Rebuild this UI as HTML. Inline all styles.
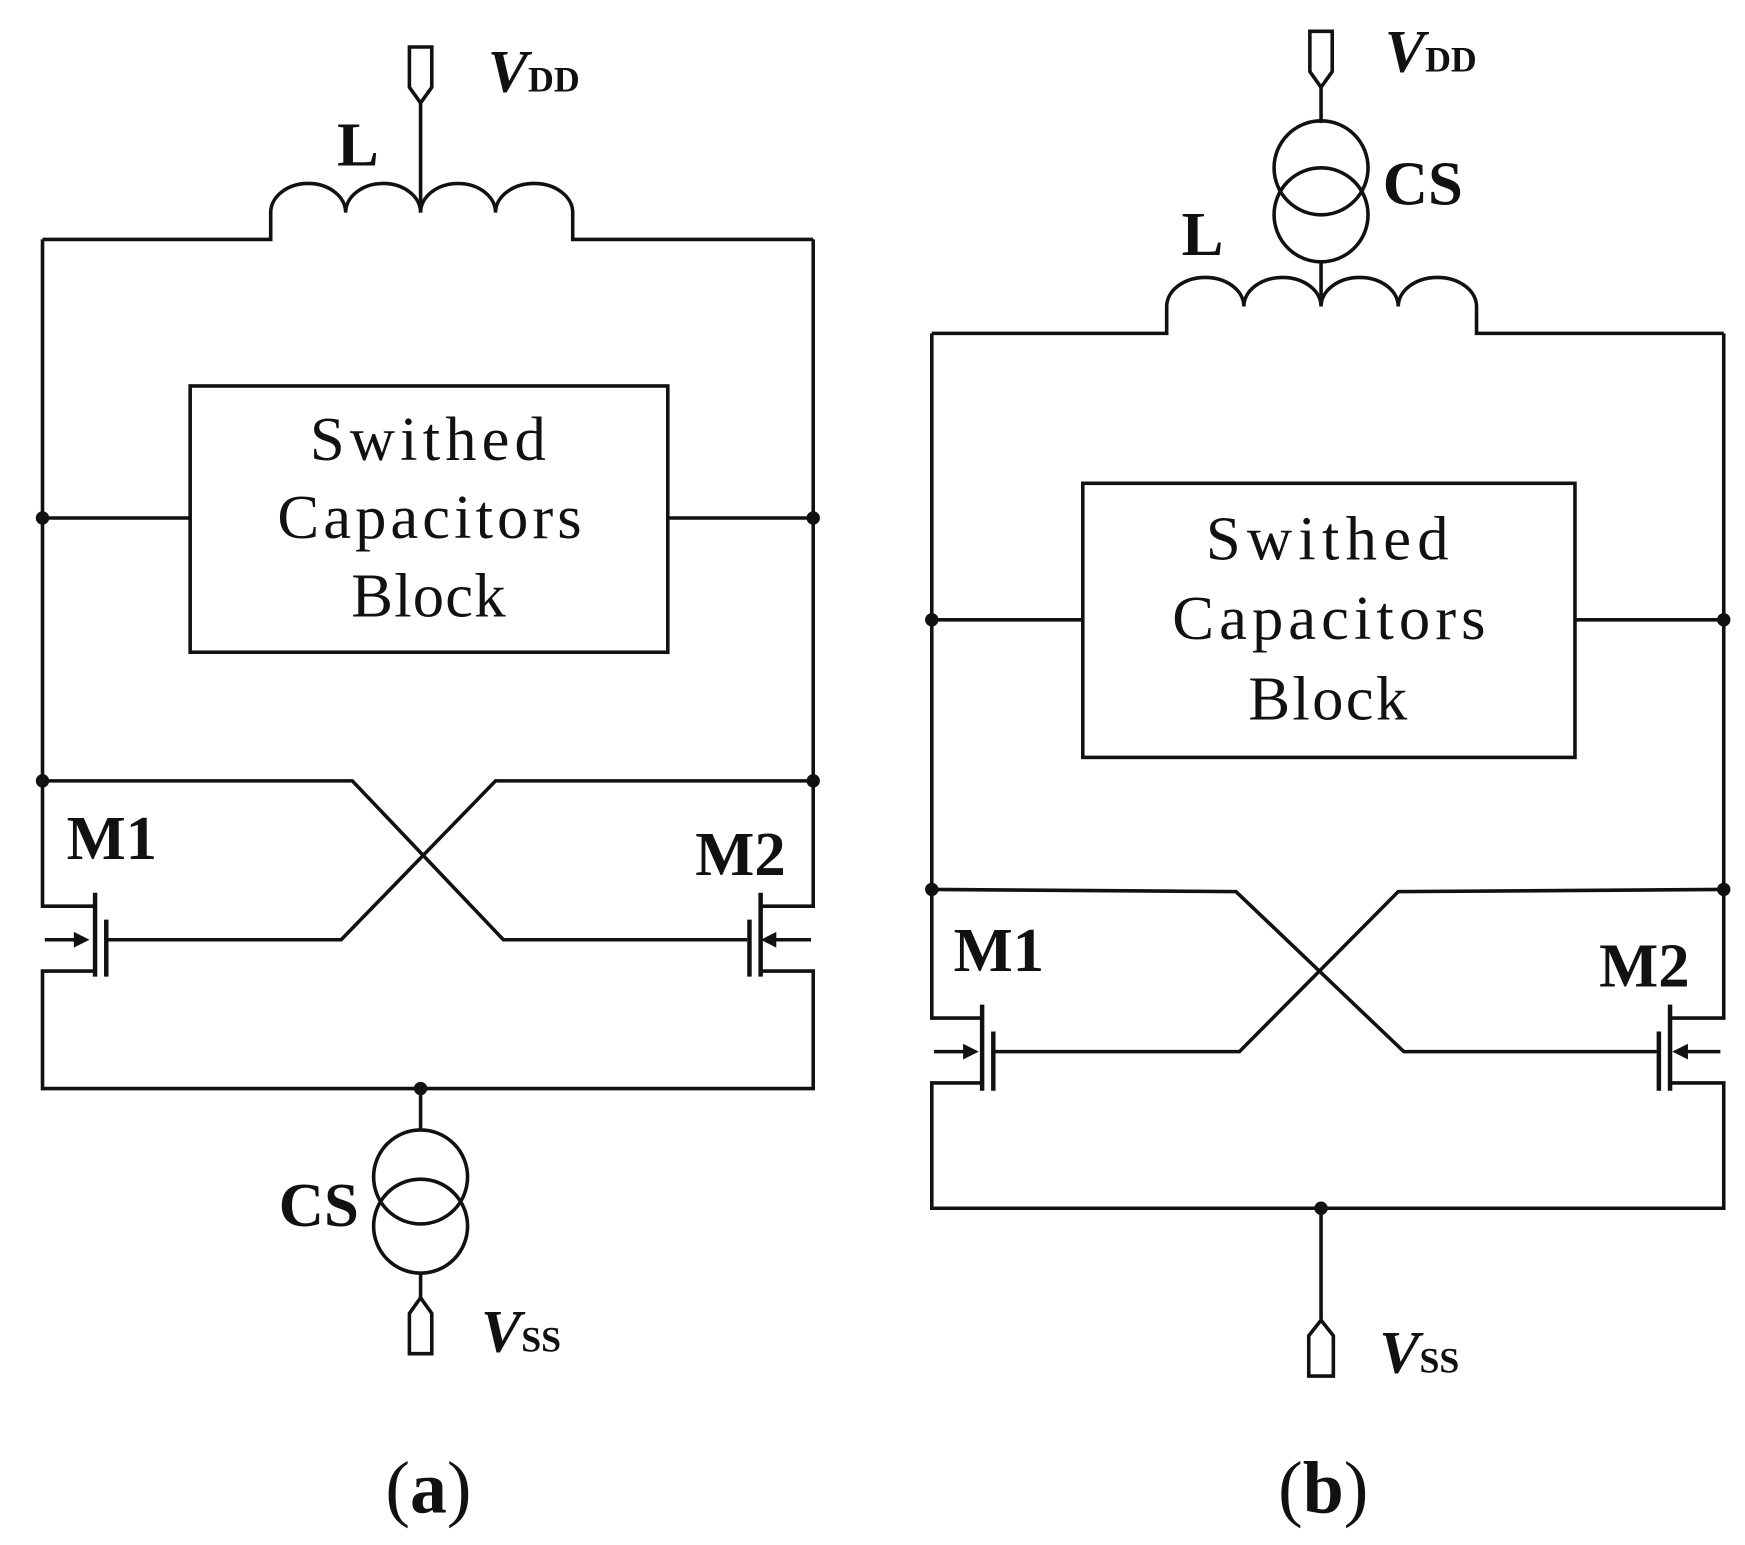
<!DOCTYPE html>
<html><head><style>html,body{margin:0;padding:0;background:#fff}svg{display:block}</style></head>
<body>
<svg width="1745" height="1545" viewBox="0 0 1560 1381" preserveAspectRatio="none" xmlns="http://www.w3.org/2000/svg">
<g fill="none" stroke="#111" stroke-width="3.2">
<!-- (a) -->
<path d="M366,42 h20 v36 l-10,14 l-10,-14 z"/>
<path d="M376,92 V190"/>
<path d="M38,214 H242 V190 a33.5,26 0 0 1 67,0 a33.5,26 0 0 1 67,0 a33.5,26 0 0 1 67,0 a34.5,26 0 0 1 69,0 V214 H727"/>
<path d="M38,214 V810 H85 M727,214 V810 H680"/>
<rect x="170" y="345" width="427" height="238"/>
<path d="M38,463 H170 M597,463 H727"/>
<path d="M38,698 H315 L450,840 H668"/>
<path d="M727,698 H443 L305,840 H97"/>
<path d="M85,868 H38 V973 H727 V868 H680"/>
<path d="M85,798 V873 M95,822 V873 M680,798 V873 M670,822 V873" stroke-width="4"/>
<path d="M40,840 H70 M690,840 H725"/>
<path d="M376,973 V1010"/>
<circle cx="376" cy="1052" r="42"/><circle cx="376" cy="1096" r="42"/>
<path d="M376,1138 V1162"/>
<path d="M366,1210 h20 v-36 l-10,-14 l-10,14 z"/>
<!-- (b) -->
<path d="M1171,28 h20 v36 l-10,14 l-10,-14 z"/>
<path d="M1181,78 V110"/>
<circle cx="1181" cy="150" r="42"/><circle cx="1181" cy="192" r="42"/>
<path d="M1181,234 V270"/>
<path d="M833,298 H1043 V274 a34.5,26 0 0 1 69,0 a34.5,26 0 0 1 69,0 a34.5,26 0 0 1 69,0 a35,26 0 0 1 70,0 V298 H1541"/>
<path d="M833,298 V910 H878 M1541,298 V910 H1493"/>
<rect x="968" y="432" width="440" height="245"/>
<path d="M833,554 H968 M1408,554 H1541"/>
<path d="M833,795 L1105,797 L1255,940 H1483"/>
<path d="M1541,795 L1250,797 L1108,940 H890"/>
<path d="M878,968 H833 V1080 H1541 V968 H1493"/>
<path d="M878,898 V975 M888,922 V975 M1493,898 V975 M1483,922 V975" stroke-width="4"/>
<path d="M835,940 H865 M1505,940 H1538"/>
<path d="M1181,1080 V1180"/>
<path d="M1170,1230 h22 v-36 l-11,-14 l-11,14 z"/>
</g>
<g fill="#111">
<circle cx="38" cy="463" r="6"/><circle cx="727" cy="463" r="6"/>
<circle cx="38" cy="698" r="6"/><circle cx="727" cy="698" r="6"/>
<circle cx="376" cy="973" r="6"/>
<circle cx="833" cy="554" r="6"/><circle cx="1541" cy="554" r="6"/>
<circle cx="833" cy="795" r="6"/><circle cx="1541" cy="795" r="6"/>
<circle cx="1181" cy="1080" r="6"/>
<path d="M80,840 l-14,-7 v14 z M680,840 l14,-7 v14 z M875,940 l-14,-7 v14 z M1495,940 l14,-7 v14 z"/>
</g>
<g font-family="Liberation Serif, serif" fill="#111">
<g font-size="56" lengthAdjust="spacingAndGlyphs">
<text x="277" y="411" textLength="211">Swithed</text><text x="248" y="481" textLength="272">Capacitors</text><text x="314" y="551" textLength="138">Block</text>
<text x="1078" y="500" textLength="217">Swithed</text><text x="1048" y="571" textLength="280">Capacitors</text><text x="1116" y="643" textLength="142">Block</text>
</g>
<g font-weight="bold" font-size="56" text-anchor="middle">
<text x="320" y="148">L</text>
<text x="100" y="768">M1</text><text x="662" y="782">M2</text>
<text x="285" y="1096">CS</text>
<text x="1075" y="228">L</text><text x="1272" y="183">CS</text>
<text x="893" y="868">M1</text><text x="1470" y="882">M2</text>
</g>
<g font-size="54" font-style="italic" font-weight="bold">
<text x="436" y="82">V<tspan font-size="32" font-style="normal">DD</tspan></text>
<text x="430" y="1208">V<tspan font-size="32" font-style="normal">SS</tspan></text>
<text x="1238" y="64">V<tspan font-size="32" font-style="normal">DD</tspan></text>
<text x="1233" y="1227">V<tspan font-size="32" font-style="normal">SS</tspan></text>
</g>
<g font-size="66" text-anchor="middle">
<text x="383" y="1352">(<tspan font-weight="bold">a</tspan>)</text>
<text x="1183" y="1352">(<tspan font-weight="bold">b</tspan>)</text>
</g>
</g>
</svg>
</body></html>
